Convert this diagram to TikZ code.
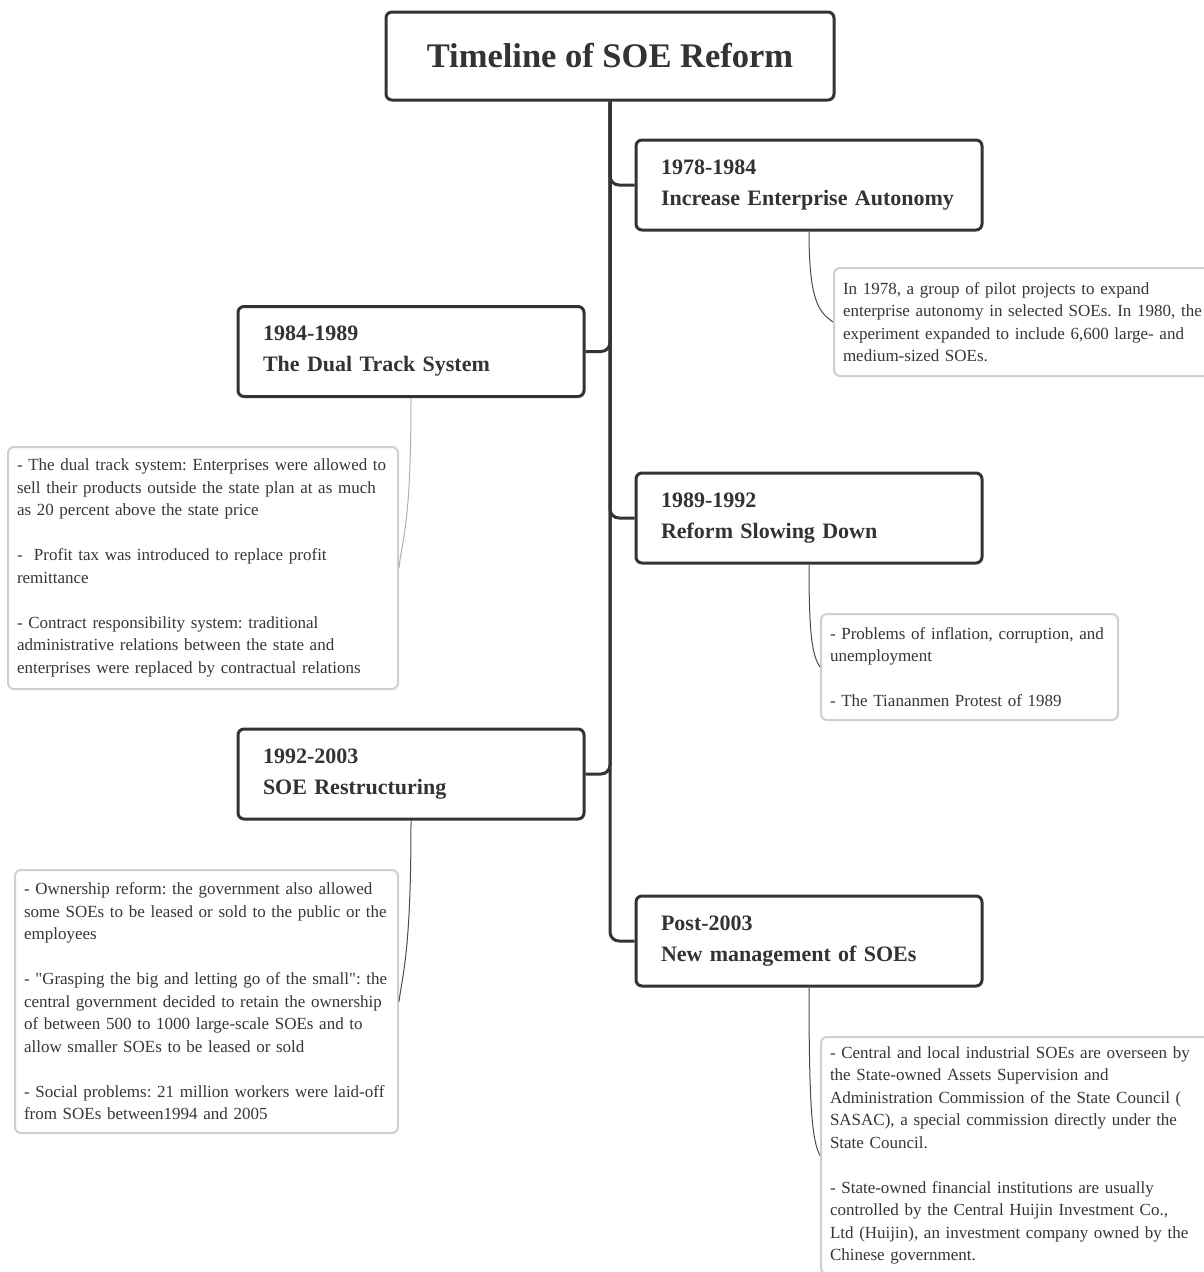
\documentclass[tikz,border=0pt]{standalone}
\usepackage{fontspec}
\setmainfont{Liberation Serif}
\frenchspacing
\definecolor{ink}{HTML}{333333}
\definecolor{notetext}{HTML}{363636}
\definecolor{noteborder}{HTML}{CFCFCF}
\definecolor{linkdark}{HTML}{4A4A4A}
\definecolor{linklight}{HTML}{AFAFAF}
\begin{document}
\begin{tikzpicture}[x=1pt,y=-1pt,
  titlebox/.style={draw=ink, line width=3pt, rounded corners=6pt, fill=white,
    minimum width=448pt, minimum height=88pt, inner sep=0pt, text=ink,
    font=\fontsize{34.5}{40}\selectfont\bfseries},
  periodbox/.style={draw=ink, line width=3pt, rounded corners=6pt, fill=white,
    minimum width=346pt, minimum height=90pt, inner xsep=25pt, inner ysep=0pt,
    text width=296pt, align=left, text=ink,
    font=\fontsize{22}{31}\selectfont\bfseries},
  notebox/.style={draw=noteborder, line width=2pt, rounded corners=6pt, fill=white,
    inner xsep=9pt, inner ysep=0pt, align=left, text=notetext,
    font=\fontsize{17}{22.5}\selectfont},
  trunk/.style={draw=ink, line width=3pt, rounded corners=9pt},
  darklink/.style={draw=linkdark, line width=1pt},
  lightlink/.style={draw=linklight, line width=1pt}
]
\useasboundingbox (0,0) rectangle (1203,1272);

% title
\node[titlebox] (title) at (610,56) {Timeline of SOE Reform};

% period boxes
\node[periodbox] (b1) at (809,185) {1978-1984\\Increase Enterprise Autonomy};
\node[periodbox] (b2) at (411,351.5) {1984-1989\\The Dual Track System};
\node[periodbox] (b3) at (809,518) {1989-1992\\Reform Slowing Down};
\node[periodbox] (b4) at (411,774) {1992-2003\\SOE Restructuring};
\node[periodbox] (b5) at (809,941) {Post-2003\\New management of SOEs};

% trunk connectors
\draw[trunk] (title.south) |- (b1.west);
\draw[trunk] (title.south) |- (b2.east);
\draw[trunk] (title.south) |- (b3.west);
\draw[trunk] (title.south) |- (b4.east);
\draw[trunk] (title.south) |- (b5.west);

% notes
\node[notebox, minimum width=380pt, minimum height=108pt, text width=362pt] (n1) at (1024,322)
  {In 1978, a group of pilot projects to expand\\
   enterprise autonomy in selected SOEs. In 1980, the\\
   experiment expanded to include 6,600 large- and\\
   medium-sized SOEs.};

\node[notebox, minimum width=390pt, minimum height=242pt, text width=372pt] (n2) at (203,568)
  {- The dual track system: Enterprises were allowed to\\
   sell their products outside the state plan at as much\\
   as 20 percent above the state price\\[22.5pt]
   -~ Profit tax was introduced to replace profit\\
   remittance\\[22.5pt]
   - Contract responsibility system: traditional\\
   administrative relations between the state and\\
   enterprises were replaced by contractual relations};

\node[notebox, minimum width=297pt, minimum height=106pt, text width=279pt] (n3) at (969.5,667)
  {- Problems of inflation, corruption, and\\
   unemployment\\[22.5pt]
   - The Tiananmen Protest of 1989};

\node[notebox, minimum width=383pt, minimum height=263pt, text width=365pt] (n4) at (206.5,1001.5)
  {- Ownership reform: the government also allowed\\
   some SOEs to be leased or sold to the public or the\\
   employees\\[22.5pt]
   - \textquotedbl Grasping the big and letting go of the small\textquotedbl: the\\
   central government decided to retain the ownership\\
   of between 500 to 1000 large-scale SOEs and to\\
   allow smaller SOEs to be leased or sold\\[22.5pt]
   - Social problems: 21 million workers were laid-off\\
   from SOEs between1994 and 2005};

\node[notebox, minimum width=392pt, minimum height=237pt, text width=374pt] (n5) at (1017,1155.5)
  {- Central and local industrial SOEs are overseen by\\
   the State-owned Assets Supervision and\\
   Administration Commission of the State Council (\\
   SASAC), a special commission directly under the\\
   State Council.\\[22.5pt]
   - State-owned financial institutions are usually\\
   controlled by the Central Huijin Investment Co.,\\
   Ltd (Huijin), an investment company owned by the\\
   Chinese government.};

% note links
\draw[darklink] (b1.south) .. controls +(0,70) and +(-14,-10) .. (n1.west);
\draw[lightlink] (b2.south) .. controls +(0,130) and +(3,-30) .. (n2.east);
\draw[darklink] (b3.south) .. controls +(0,70) and +(-8,-12) .. (n3.west);
\draw[darklink] (b4.south) .. controls +(0,130) and +(4,-30) .. (n4.east);
\draw[darklink] (b5.south) .. controls +(0,120) and +(-8,-15) .. (n5.west);
\end{tikzpicture}
\end{document}
